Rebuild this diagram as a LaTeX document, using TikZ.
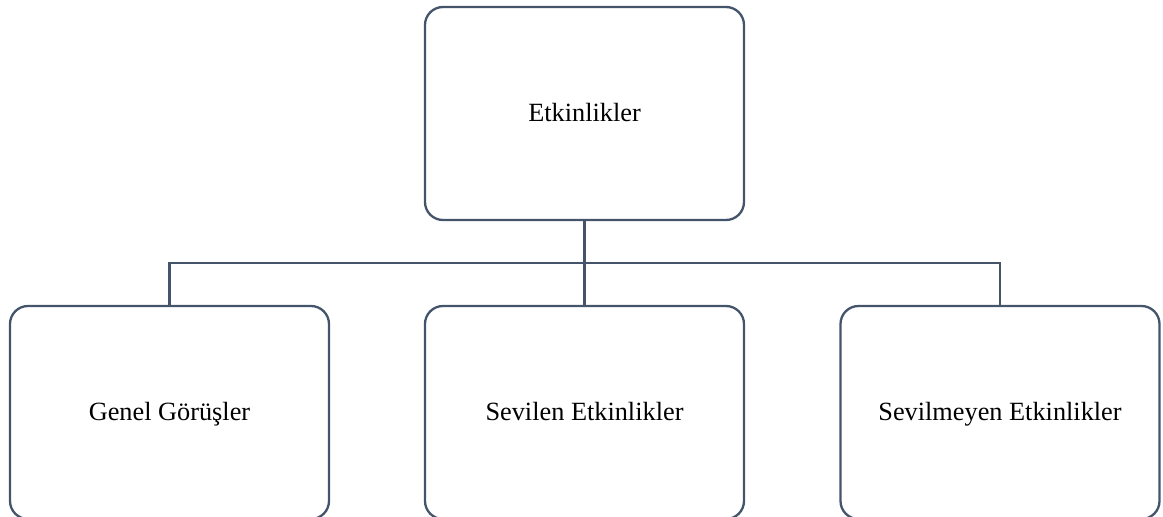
\documentclass[tikz,border=0pt]{standalone}
\usepackage{fontspec}
\setmainfont{Liberation Serif}
\definecolor{boxline}{HTML}{44546A}
\begin{document}
\begin{tikzpicture}[x=1pt,y=-1pt,
  box/.style={draw=boxline,line width=2.3pt,rounded corners=18pt,fill=white,
    rectangle,minimum width=319pt,minimum height=213pt,inner sep=0pt,outer sep=0pt},
  conn/.style={draw=boxline,line width=2.3pt},
  lbl/.style={font=\fontsize{26.3}{30}\selectfont,text=black,anchor=base}]
\useasboundingbox (0,0) rectangle (1163,517);
% boxes
\node[box] (top) at (584.5,113.5) {};
\node[box] (left) at (169.5,412.5) {};
\node[box] (mid) at (584.5,412.5) {};
\node[box] (right) at (1000,412.5) {};
% connectors
\coordinate (bus) at (584.5,263);
\draw[conn] (top.south) -- (bus);
\draw[conn] (left.north) |- (bus) -| (right.north);
\draw[conn] (bus) -- (mid.north);
% labels
\node[lbl] (t) at ([yshift=-8.2pt]top.center) {Etkinlikler};
\node[lbl] (a) at ([yshift=-7.8pt]left.center) {Genel Görüşler};
\node[lbl] (b) at ([yshift=-7.8pt]mid.center) {Sevilen Etkinlikler};
\node[lbl] (c) at ([yshift=-7.8pt]right.center) {Sevilmeyen Etkinlikler};
\end{tikzpicture}
\end{document}
